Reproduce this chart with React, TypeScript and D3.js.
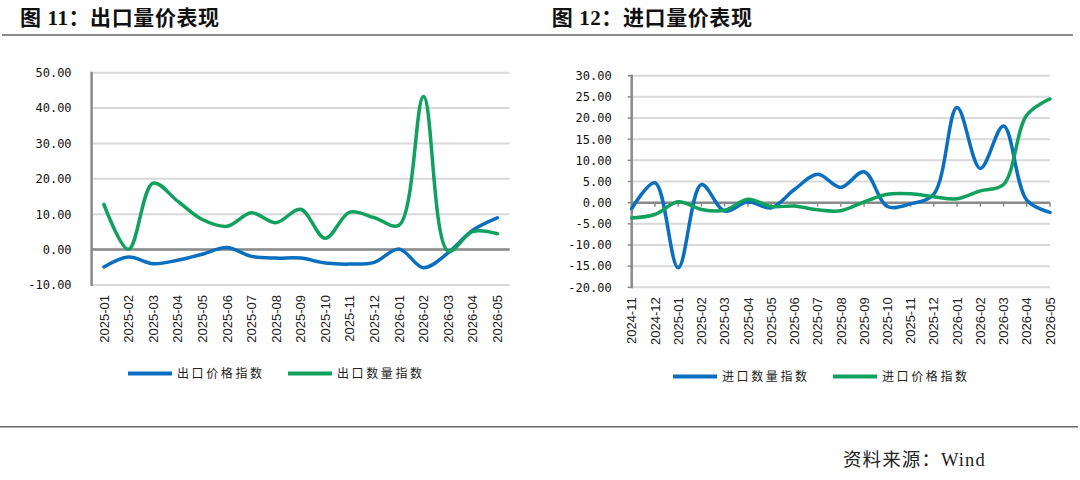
import * as d3 from "d3";

// 出口量价表现 (图 11)
const exportMonths = [
  "2025-01", "2025-02", "2025-03", "2025-04", "2025-05", "2025-06", "2025-07", "2025-08", "2025-09",
  "2025-10", "2025-11", "2025-12", "2026-01", "2026-02", "2026-03", "2026-04", "2026-05",
];
const exportPrice = [-4.9, -2.1, -4.0, -3.0, -1.3, 0.6, -1.9, -2.4, -2.4, -3.8, -4.1, -3.6, 0.2, -5.1, -0.9, 5.5, 9.0];
const exportVolume = [12.8, 0.1, 18.8, 13.7, 8.5, 6.6, 10.4, 7.6, 11.4, 3.2, 10.6, 9.0, 6.9, 43.3, -0.4, 5.1, 4.5];
const exportTicks = [-10, 0, 10, 20, 30, 40, 50];

// 进口量价表现 (图 12)
const importMonths = [
  "2024-11", "2024-12", "2025-01", "2025-02", "2025-03", "2025-04", "2025-05", "2025-06", "2025-07",
  "2025-08", "2025-09", "2025-10", "2025-11", "2025-12", "2026-01", "2026-02", "2026-03", "2026-04", "2026-05",
];
const importVolume = [-1.4, 4.7, -15.4, 4.3, -2.0, 0.2, -1.2, 3.1, 6.7, 3.6, 7.3, -0.9, -0.3, 2.0, 22.5, 8.1, 18.1, 0.6, -2.3];
const importPrice = [-3.6, -2.8, 0.2, -1.6, -1.8, 0.8, -0.9, -0.8, -1.7, -1.9, 0.2, 2.0, 2.1, 1.4, 0.9, 2.8, 4.3, 20.7, 24.5];
const importTicks = [-20, -15, -10, -5, 0, 5, 10, 15, 20, 25, 30];

const BLUE = "#0A6FBF";
const GREEN = "#10A15E";
const CJK = "'Liberation Serif', 'Noto Sans CJK SC', serif";

interface Series { name: string; color: string; values: number[] }

interface PanelProps {
  title: string;
  titleX: number;
  categories: string[];
  series: Series[];
  ticks: number[];
  left: number;
  right: number;
  top: number;
  bottom: number;
  pointPadding: number;
  tickMarks: boolean;
  legendY: number;
  legendX: number[];
}

function Panel({ title, titleX, categories, series, ticks, left, right, top, bottom, pointPadding, tickMarks, legendY, legendX }: PanelProps) {
  const x = d3.scalePoint<string>().domain(categories).range([left, right]).padding(pointPadding);
  const y = d3.scaleLinear().domain([ticks[0], ticks[ticks.length - 1]]).range([bottom, top]);
  const line = d3.line<number>()
    .x((_, i) => x(categories[i])!)
    .y(d => y(d))
    .curve(d3.curveCatmullRom.alpha(0.5));

  return (
    <g>
      <text x={titleX} y={25} fontSize={21} fontFamily={CJK} fontWeight={600} letterSpacing={0.6} fill="#111">
        {title}
      </text>

      {/* grid */}
      {ticks.map(t => (
        <g key={t}>
          <line x1={left} x2={right} y1={y(t)} y2={y(t)} stroke="#D9D9D9" strokeWidth={2} />
          {tickMarks && <line x1={left - 4} x2={left} y1={y(t)} y2={y(t)} stroke="#888" strokeWidth={1.5} />}
          <text x={left - 20} y={y(t)} dy="0.36em" textAnchor="end" fontSize={12}
            fontFamily="'DejaVu Sans Mono', monospace" fill="#111">
            {t.toFixed(2)}
          </text>
        </g>
      ))}

      {/* axes */}
      <line x1={left} x2={left} y1={top - 1} y2={bottom + 1} stroke="#8A8A8A" strokeWidth={2.5} />
      <line x1={left} x2={right} y1={y(0)} y2={y(0)} stroke="#8A8A8A" strokeWidth={2.5} />
      {tickMarks && categories.map(c => (
        <line key={c} x1={x(c)} x2={x(c)} y1={y(0)} y2={y(0) + 4} stroke="#8A8A8A" strokeWidth={1.5} />
      ))}

      {/* category labels */}
      {categories.map(c => (
        <text key={c} transform={`translate(${x(c)},${bottom + 10}) rotate(-90)`} dy="0.36em" textAnchor="end"
          fontSize={13} fontFamily="'Liberation Sans', Arial, sans-serif" fill="#222">
          {c}
        </text>
      ))}

      {/* series */}
      {series.map(s => (
        <path key={s.name} d={line(s.values)!} fill="none" stroke={s.color} strokeWidth={3.5}
          strokeLinejoin="round" strokeLinecap="round" />
      ))}

      {/* legend */}
      {series.map((s, i) => (
        <g key={s.name} transform={`translate(${legendX[i]},${legendY})`}>
          <line x1={0} x2={44} y1={0} y2={0} stroke={s.color} strokeWidth={4} />
          <text x={49} y={0} dy="0.38em" fontSize={12} letterSpacing={2.6} fontFamily={CJK} fill="#222">
            {s.name}
          </text>
        </g>
      ))}
    </g>
  );
}

export default function App() {
  return (
    <div style={{ position: "absolute", left: 0, top: 0 }}>
      <svg width={1080} height={480} style={{ display: "block", background: "#fff" }}>
        <line x1={2} x2={1073} y1={35} y2={35} stroke="#666" strokeWidth={1.5} />

        <Panel
          title="图 11：出口量价表现"
          titleX={20}
          categories={exportMonths}
          series={[
            { name: "出口价格指数", color: BLUE, values: exportPrice },
            { name: "出口数量指数", color: GREEN, values: exportVolume },
          ]}
          ticks={exportTicks}
          left={91.6}
          right={509.6}
          top={72.7}
          bottom={285}
          pointPadding={0.5}
          tickMarks={false}
          legendY={373.5}
          legendX={[128, 288]}
        />

        <Panel
          title="图 12：进口量价表现"
          titleX={551.7}
          categories={importMonths}
          series={[
            { name: "进口数量指数", color: BLUE, values: importVolume },
            { name: "进口价格指数", color: GREEN, values: importPrice },
          ]}
          ticks={importTicks}
          left={631.7}
          right={1050}
          top={75.7}
          bottom={287.3}
          pointPadding={0}
          tickMarks={true}
          legendY={376.5}
          legendX={[673, 833]}
        />

        <line x1={0} x2={1078} y1={426.7} y2={426.7} stroke="#666" strokeWidth={1.5} />
        <text x={843} y={466} fontSize={18.5} letterSpacing={1.1} fontFamily={CJK} fill="#222">
          资料来源：Wind
        </text>
      </svg>
    </div>
  );
}
